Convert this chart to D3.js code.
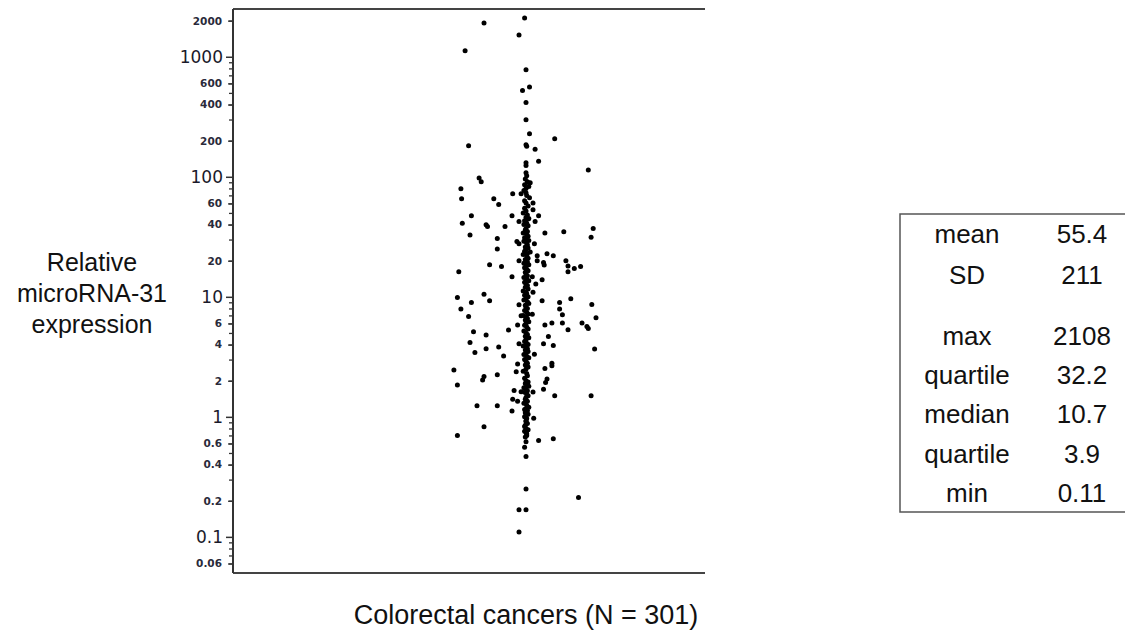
<!DOCTYPE html>
<html>
<head>
<meta charset="utf-8">
<script src="https://cdn.jsdelivr.net/npm/d3@7"></script>
<style>
body { margin: 0; background: #fff; }
.axis-label, .table-text { font-family: "Liberation Sans", Arial, sans-serif; fill: #111; }
</style>
</head>
<body>
<svg id="chart" width="1125" height="635"></svg>
<script>
const svg = d3.select('#chart');

// scattered points: [value, horizontal jitter (-1..1)]
const outerPoints = [
	[2108, -0.02], [1909, -0.60], [1517, -0.10], [1122, -0.87], [780, 0], [524, -0.05],
	[559, 0.05], [416, 0], [299, 0], [228, 0.05], [207, 0.41], [181, -0.82], [185, 0],
	[180, 0.01], [170, 0.13], [135, 0.18], [131, 0], [124, 0], [114, 0.89], [97.5, -0.67],
	[90.8, -0.64], [108, 0], [102, 0.01], [96, -0.01], [91, 0.02], [89, 0.06], [79.4, -0.93],
	[72.2, -0.19], [72.2, -0.07], [73.6, 0], [65.6, -0.92], [65.6, -0.46], [58.8, -0.39],
	[60.4, 0], [60.4, 0.10], [54.8, -0.02], [53.1, 0.10], [47.3, 0.18], [44.4, 0.03],
	[42.4, 0.13], [47.3, -0.78], [41.1, -0.91], [39.8, -0.57], [38.5, -0.55], [38.5, -0.30],
	[47.3, -0.20], [42.4, -0.10], [32.7, -0.80], [34.0, 0.27], [34.8, 0.54], [37.1, 0.96],
	[31.4, 0.93], [30.6, -0.41], [25.0, -0.41], [28.9, -0.13], [27.7, -0.10], [27.7, 0.12],
	[23.6, 0.06], [22.0, 0.16], [22.8, 0.30], [22.0, 0.39], [20.0, -0.10], [20.0, 0.16],
	[19.3, 0.25], [18.4, 0.26], [20.0, 0.57], [18.5, -0.52], [17.9, -0.35], [18.1, 0.60],
	[16.2, 0.60], [17.2, 0.69], [17.9, 0.78], [16.2, -0.96], [14.7, -0.20], [14.7, 0.09],
	[13.9, 0.23], [12.8, 0.14], [10.9, 0.10], [10.5, -0.60], [9.87, -0.98], [9.26, -0.52],
	[8.97, -0.78], [9.26, 0.23], [8.97, 0.48], [9.62, 0.64], [8.62, 0.94], [7.9, -0.93],
	[7.9, 0.48], [8.58, -0.10], [6.85, -0.82], [7.08, 0.52], [6.68, 1.0], [6.95, -0.07],
	[7.17, 0.09], [5.81, 0.27], [6.04, 0.37], [6.04, 0.52], [6.04, 0.80], [5.66, 0.87],
	[5.44, 0.89], [5.31, 0.60], [5.81, -0.12], [5.28, -0.25], [5.11, -0.75], [4.80, -0.57],
	[4.67, 0.32], [4.16, -0.80], [4.06, 0.25], [3.93, 0.39], [4.06, -0.10], [3.81, -0.39],
	[3.69, -0.57], [3.43, -0.73], [3.22, -0.32], [3.33, 0.12], [3.67, 0.98], [2.75, -0.12],
	[2.46, -1.03], [2.80, 0.37], [2.66, 0.37], [2.53, 0.27], [2.24, -0.41], [2.17, -0.60],
	[2.03, -0.62], [2.37, -0.14], [2.07, 0.30], [1.93, 0.28], [1.84, -0.98], [1.66, -0.17],
	[1.62, -0.07], [1.70, 0.25], [1.61, 0.10], [1.50, 0.41], [1.50, 0.93], [1.40, -0.19],
	[1.35, -0.12], [1.24, -0.70], [1.24, -0.41], [1.12, -0.20], [1.14, 0], [1.12, 0.01],
	[0.975, 0.11], [0.914, 0], [0.830, -0.02], [0.754, 0], [0.722, 0.01], [0.826, -0.60],
	[0.699, -0.98], [0.634, 0.18], [0.656, 0.39], [0.559, -0.02], [0.467, 0], [0.251, 0],
	[0.213, 0.75], [0.168, -0.10], [0.168, 0], [0.11, -0.10]
];

// dense central column: [value, jitter]
const columnPoints = [
	[90, 0.02], [86, -0.02], [83, 0.04], [80, 0], [77, -0.03], [70, 0.01], [67, 0.05], [63, -0.02],
	[57, 0.03], [52, 0], [50, -0.04], [48, 0.02], [46, 0], [45, 0.04], [43, -0.02], [41, 0.01],
	[40, -0.03], [39, 0.03], [37, 0], [36, -0.01], [35, 0.02], [34, -0.04], [33, 0.01], [32, 0.03],
	[31, -0.02], [30, 0], [29.5, 0.04], [29, -0.03], [28, 0.01], [27, 0.02], [26, -0.01], [25.5, 0.03],
	[25, 0], [24, -0.02], [23, 0.02], [22.5, -0.04], [22, 0.01], [21, 0.03], [20.5, -0.01], [20, 0],
	[19.5, 0.02], [19, -0.03], [18.5, 0.04], [18, 0], [17.5, -0.02], [17, 0.01], [16.5, 0.03], [16, -0.01],
	[15.5, 0], [15, 0.02], [14.5, -0.03], [14, 0.01], [13.6, 0.04], [13.2, -0.02], [12.8, 0], [12.4, 0.02],
	[12, -0.01], [11.6, 0.03], [11.2, -0.04], [10.9, 0], [10.6, 0.01], [10.3, -0.02], [10, 0.03], [9.7, 0],
	[9.4, -0.03], [9.1, 0.02], [8.8, 0.04], [8.5, -0.01], [8.2, 0], [8, 0.02], [7.7, -0.02], [7.4, 0.01],
	[7.2, 0.03], [7, -0.04], [6.8, 0], [6.6, 0.02], [6.4, -0.01], [6.2, 0.04], [6, 0], [5.8, -0.02],
	[5.6, 0.01], [5.4, 0.03], [5.2, -0.03], [5, 0], [4.85, 0.02], [4.7, -0.01], [4.55, 0.04], [4.4, 0],
	[4.25, -0.02], [4.1, 0.01], [4, 0.03], [3.9, -0.04], [3.8, 0], [3.7, 0.02], [3.6, -0.01], [3.5, 0.03],
	[3.4, 0], [3.3, -0.03], [3.2, 0.01], [3.1, 0.04], [3, -0.02], [2.9, 0], [2.8, 0.02], [2.7, -0.01],
	[2.6, 0.03], [2.5, 0], [2.4, -0.04], [2.3, 0.01], [2.2, 0.02], [2.1, -0.02], [2.0, 0], [1.95, 0.03],
	[1.9, -0.01], [1.85, 0.01], [1.8, 0.04], [1.75, -0.03], [1.7, 0], [1.65, 0.02], [1.6, -0.02], [1.55, 0.01],
	[1.5, 0.03], [1.45, 0], [1.4, -0.01], [1.35, 0.02], [1.3, -0.03], [1.25, 0.01], [1.2, 0.04], [1.17, 0],
	[1.15, -0.02], [1.13, 0.02], [1.1, 0], [1.08, -0.01], [1.05, 0.03], [1.02, 0], [1.0, -0.02], [0.97, 0.01],
	[0.93, 0], [0.88, 0.02], [0.85, -0.01], [0.8, 0], [0.78, 0.03], [0.76, -0.02], [0.74, 0], [0.7, 0.01],
	[0.68, -0.01], [0.62, 0]
];

const majorTicks = [0.1, 1, 10, 100, 1000];
const labeledMinorTicks = [0.06, 0.2, 0.4, 0.6, 2, 4, 6, 20, 40, 60, 200, 400, 600, 2000];

const yLabelLines = ['Relative', 'microRNA-31', 'expression'];
const xLabel = 'Colorectal cancers (N = 301)';

const statNames = ['mean', 'SD', 'max', 'quartile', 'median', 'quartile', 'min'];
const statValues = ['55.4', '211', '2108', '32.2', '10.7', '3.9', '0.11'];

const plot = { left: 233, right: 705, top: 9, bottom: 573 };

const yScale = d3.scaleLog()
	.domain([0.05, 2500])
	.range([plot.bottom, plot.top]);

const xScale = d3.scaleLinear()
	.domain([-1, 1])
	.range([456, 596]);

//frame: top and bottom lines (left one is the axis)
svg.append('line')
	.attr('x1', plot.left).attr('x2', plot.right)
	.attr('y1', plot.top).attr('y2', plot.top)
	.attr('stroke', '#444').attr('stroke-width', 2);
svg.append('line')
	.attr('x1', plot.left).attr('x2', plot.right)
	.attr('y1', plot.bottom).attr('y2', plot.bottom)
	.attr('stroke', '#444').attr('stroke-width', 2);

//minor ticks, no labels
const allMinor = yScale.ticks().filter(d => d > 0.05 && !majorTicks.includes(d));
const minorAxis = d3.axisLeft(yScale)
	.tickValues(allMinor)
	.tickSize(4)
	.tickFormat('');
const minorG = svg.append('g')
	.attr('transform', `translate(${plot.left},0)`)
	.call(minorAxis);
minorG.select('.domain').remove();
minorG.selectAll('.tick line').attr('stroke', '#333').attr('stroke-width', 1.3);

//labelled minor ticks
const labeledAxis = d3.axisLeft(yScale)
	.tickValues(labeledMinorTicks)
	.tickSize(5)
	.tickPadding(6)
	.tickFormat(d => d3.format('~g')(d));
const labeledG = svg.append('g')
	.attr('transform', `translate(${plot.left},0)`)
	.call(labeledAxis);
labeledG.select('.domain').remove();
labeledG.selectAll('.tick line').attr('stroke', '#333').attr('stroke-width', 1.3);
labeledG.selectAll('.tick text')
	.attr('font-family', '"DejaVu Sans", Verdana, sans-serif')
	.attr('font-size', 10.5)
	.attr('font-weight', 'bold')
	.attr('fill', '#2a2a3a');

//major ticks with big labels and the axis line
const majorAxis = d3.axisLeft(yScale)
	.tickValues(majorTicks)
	.tickSize(7)
	.tickSizeOuter(0)
	.tickPadding(3)
	.tickFormat(d => d3.format('~g')(d));
const majorG = svg.append('g')
	.attr('transform', `translate(${plot.left},0)`)
	.call(majorAxis);
majorG.select('.domain')
	.attr('d', `M0,${plot.top}V${plot.bottom}`)
	.attr('stroke', '#333').attr('stroke-width', 2);
majorG.selectAll('.tick line').attr('stroke', '#333').attr('stroke-width', 1.5);
majorG.selectAll('.tick text')
	.attr('font-family', '"DejaVu Sans", Verdana, sans-serif')
	.attr('font-size', 17)
	.attr('fill', '#1a1a2a');

//points
const allPoints = outerPoints.concat(columnPoints);
svg.append('g')
	.selectAll('circle').data(allPoints)
	.enter().append('circle')
		.attr('cx', d => xScale(d[1]))
		.attr('cy', d => yScale(d[0]))
		.attr('r', 2.5)
		.attr('fill', '#000');

//axis labels
svg.append('text')
	.attr('class', 'axis-label')
	.attr('text-anchor', 'middle')
	.attr('font-size', 25)
	.selectAll('tspan').data(yLabelLines)
	.enter().append('tspan')
		.attr('x', 92)
		.attr('y', (d, i) => 271 + i * 31)
		.text(d => d);

svg.append('text')
	.attr('class', 'axis-label')
	.attr('text-anchor', 'middle')
	.attr('font-size', 27)
	.attr('x', 526)
	.attr('y', 624)
	.text(xLabel);

//statistics table
const table = svg.append('g');
table.append('rect')
	.attr('x', 900).attr('y', 214)
	.attr('width', 240).attr('height', 298)
	.attr('fill', 'none')
	.attr('stroke', '#555').attr('stroke-width', 1.5);

const rowY = [243, 284, 345, 384, 423, 463, 502];
table.selectAll('.stat-name').data(statNames)
	.enter().append('text')
		.attr('class', 'table-text stat-name')
		.attr('text-anchor', 'middle')
		.attr('font-size', 26)
		.attr('x', 967)
		.attr('y', (d, i) => rowY[i])
		.text(d => d);
table.selectAll('.stat-value').data(statValues)
	.enter().append('text')
		.attr('class', 'table-text stat-value')
		.attr('text-anchor', 'middle')
		.attr('font-size', 26)
		.attr('x', 1082)
		.attr('y', (d, i) => rowY[i])
		.text(d => d);
</script>
</body>
</html>
